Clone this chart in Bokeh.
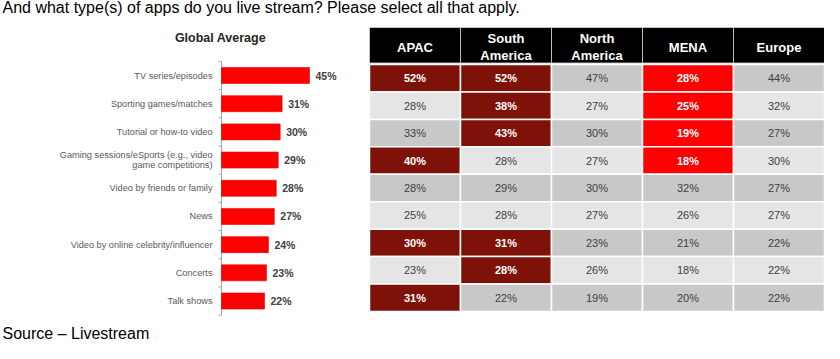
from bokeh.plotting import figure
from bokeh.models import Range1d, ColumnDataSource
from bokeh.embed import file_html
from bokeh.resources import INLINE
from bokeh.core.properties import value

# ---------------- data ----------------
title_text = "And what type(s) of apps do you live stream? Please select all that apply."
source_text = "Source \u2013 Livestream"
chart_title = "Global Average"

categories = [
    "TV series/episodes",
    "Sporting games/matches",
    "Tutorial or how-to video",
    "Gaming sessions/eSports (e.g., video\ngame competitions)",
    "Video by friends or family",
    "News",
    "Video by online celebrity/influencer",
    "Concerts",
    "Talk shows",
]
global_avg = [45, 31, 30, 29, 28, 27, 24, 23, 22]

regions = ["APAC", "South\nAmerica", "North\nAmerica", "MENA", "Europe"]
apac = [52, 28, 33, 40, 28, 25, 30, 23, 31]
south_america = [52, 38, 43, 28, 29, 28, 31, 28, 22]
north_america = [47, 27, 30, 27, 30, 27, 23, 26, 19]
mena = [28, 25, 19, 18, 32, 26, 21, 18, 20]
europe = [44, 32, 27, 30, 27, 27, 22, 22, 22]

# significance flags: "H" = significantly higher, "L" = significantly lower
apac_flag = ["H", "", "", "H", "", "", "H", "", "H"]
south_america_flag = ["H", "H", "H", "", "", "", "H", "H", ""]
north_america_flag = ["", "", "", "", "", "", "", "", ""]
mena_flag = ["L", "L", "L", "L", "", "", "", "", ""]
europe_flag = ["", "", "", "", "", "", "", "", ""]

# ---------------- layout constants (pixels) ----------------
W, H = 824, 343
FONT = value("Liberation Sans")

BAR_X0 = 221.0          # pixel of 0 %
PX_PER_PCT = 1.956
BAR_ROW0 = 75.0         # pixel centre of first bar row
BAR_STEP = 28.19
BAR_H_PX = 16.0

TAB_X0 = 369.0          # pixel of table left edge
COL_W = 91.0
TAB_TOP = 64.0          # pixel of first table row top
ROW_H = 27.44
HEAD_TOP, HEAD_BOT = 27.0, 62.5
HEAD_TEXT_Y = 46.5

DARK_RED = "#7E1209"
BRIGHT_RED = "#FF0000"
GRAY_DARK = "#C8C8C8"
GRAY_LIGHT = "#E5E5E5"

# ---------------- figure & ranges ----------------
bar_x = Range1d(-BAR_X0 / PX_PER_PCT, (W - BAR_X0) / PX_PER_PCT)
bar_y = Range1d((H - BAR_ROW0) / BAR_STEP, -BAR_ROW0 / BAR_STEP)

tc0 = TAB_TOP + ROW_H / 2
tab_x = Range1d(-TAB_X0 / COL_W - 0.5, (W - TAB_X0) / COL_W - 0.5)
tab_y = Range1d((H - tc0) / ROW_H, -tc0 / ROW_H)

p = figure(width=W, height=H, x_range=bar_x, y_range=bar_y,
           output_backend="svg", toolbar_location=None,
           x_axis_location=None, y_axis_location=None,
           min_border=0, outline_line_color=None)
p.xgrid.visible = False
p.ygrid.visible = False
p.background_fill_color = "white"
p.border_fill_color = "white"
p.extra_x_ranges = {"tab_x": tab_x, "px_x": Range1d(0, W)}
p.extra_y_ranges = {"tab_y": tab_y, "px_y": Range1d(H, 0)}

# ---------------- bar chart ----------------
rows = list(range(len(categories)))
bar_src = ColumnDataSource(dict(
    row=rows, val=global_avg, cat=categories,
    lab=[f"{v}%" for v in global_avg],
))

# axis line with tick marks
n_ticks = len(categories) + 1
tick_len = 3 / PX_PER_PCT
p.segment(x0=[0], y0=[-0.5], x1=[0], y1=[len(categories) - 0.5],
          line_color="#A6A6A6", line_width=1)
p.segment(x0=[0] * n_ticks, y0=[r - 0.5 for r in range(n_ticks)],
          x1=[-tick_len] * n_ticks, y1=[r - 0.5 for r in range(n_ticks)],
          line_color="#A6A6A6", line_width=1)

p.hbar(y="row", left=0, right="val", height=BAR_H_PX / BAR_STEP, source=bar_src,
       fill_color=BRIGHT_RED, line_color="#E00000", line_width=0.6)

p.text(x=0, y="row", text="cat", source=bar_src, x_offset=-9,
       text_align="right", text_baseline="middle", text_font=FONT,
       text_font_size="9.2px", text_color="#595959", text_line_height=1.07)
p.text(x="val", y="row", text="lab", source=bar_src, x_offset=6,
       text_align="left", text_baseline="middle", text_font=FONT,
       text_font_size="10.5px", text_font_style="bold", text_color="#404040")

# ---------------- table ----------------
table_cols = [apac, south_america, north_america, mena, europe]
table_flags = [apac_flag, south_america_flag, north_america_flag, mena_flag, europe_flag]
cx, cy, fill, txt, tcol, tstyle = [], [], [], [], [], []
for j, (col, flg) in enumerate(zip(table_cols, table_flags)):
    for i, (v, f) in enumerate(zip(col, flg)):
        cx.append(j)
        cy.append(i)
        txt.append(f"{v}%")
        if f == "H":
            fill.append(DARK_RED); tcol.append("white"); tstyle.append("bold")
        elif f == "L":
            fill.append(BRIGHT_RED); tcol.append("white"); tstyle.append("bold")
        else:
            fill.append(GRAY_DARK if i % 2 == 0 else GRAY_LIGHT)
            tcol.append("#404040"); tstyle.append("normal")
cell_src = ColumnDataSource(dict(x=cx, y=cy, fill=fill, txt=txt, tcol=tcol, tstyle=tstyle))

p.rect(x="x", y="y", width=1, height=1, source=cell_src, fill_color="fill",
       line_color="white", line_width=1.5, x_range_name="tab_x", y_range_name="tab_y")
p.text(x="x", y="y", text="txt", source=cell_src, text_align="center",
       text_baseline="middle", text_font=FONT, text_font_size="11px",
       text_color="tcol", text_font_style="tstyle",
       x_range_name="tab_x", y_range_name="tab_y")

# header
h_top = (HEAD_TOP - tc0) / ROW_H
h_bot = (HEAD_BOT - tc0) / ROW_H
h_txt = (HEAD_TEXT_Y - tc0) / ROW_H
head_src = ColumnDataSource(dict(x=list(range(len(regions))), name=regions))
p.quad(left=[j - 0.5 for j in range(len(regions))], right=[j + 0.5 for j in range(len(regions))],
       top=h_top, bottom=h_bot, fill_color="black", line_color="#D0D0D0", line_width=0.8,
       x_range_name="tab_x", y_range_name="tab_y")
p.text(x="x", y=h_txt, text="name", source=head_src, text_align="center",
       text_baseline="middle", text_font=FONT, text_font_size="13px",
       text_font_style="bold", text_color="white", text_line_height=1.07,
       x_range_name="tab_x", y_range_name="tab_y")

# ---------------- titles ----------------
p.text(x=[2], y=[6.5], text=[title_text], text_align="left", text_baseline="middle",
       text_font=FONT, text_font_size="16px", text_color="black",
       x_range_name="px_x", y_range_name="px_y")
p.text(x=[2], y=[333], text=[source_text], text_align="left", text_baseline="middle",
       text_font=FONT, text_font_size="16px", text_color="black",
       x_range_name="px_x", y_range_name="px_y")
p.text(x=[220], y=[37.5], text=[chart_title], text_align="center", text_baseline="middle",
       text_font=FONT, text_font_size="12.5px", text_font_style="bold", text_color="#262626",
       x_range_name="px_x", y_range_name="px_y")

open("out.html", "w").write(file_html(p, INLINE))
